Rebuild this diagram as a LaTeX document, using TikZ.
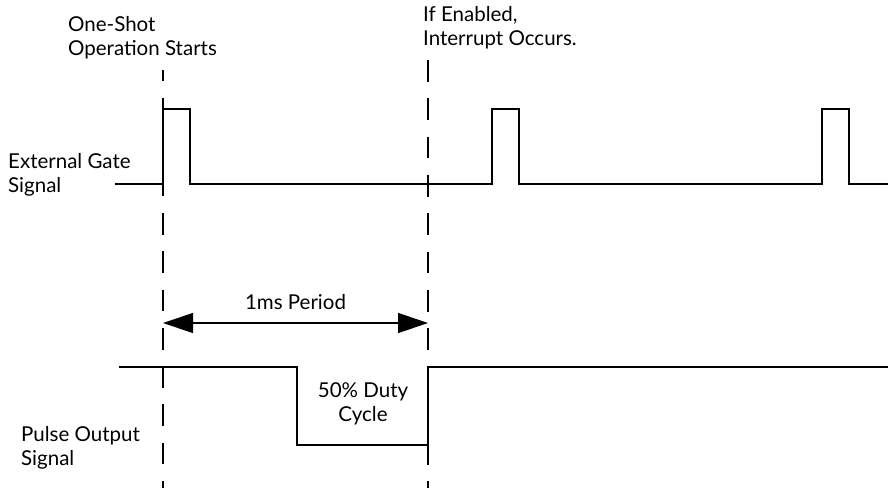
\documentclass[tikz,border=0pt]{standalone}
\usepackage{fontspec}
\setmainfont{Lato}
\usetikzlibrary{arrows.meta,positioning,calc}

\tikzset{
  senal/.style={line width=1.2pt},                                   % trazo de las senales
  guia/.style={line width=1.1pt, dash pattern=on 21.7pt off 16.6pt}, % lineas de referencia
  rotulo/.style={inner sep=0pt, font=\fontsize{20.5}{24}\selectfont},
  flecha/.style={line width=1.2pt, {Triangle[length=30pt,width=20pt]}-{Triangle[length=30pt,width=20pt]}}
}

\begin{document}
\begin{tikzpicture}[x=1pt, y=-1pt]
	\useasboundingbox (0,0) rectangle (891,488);
	% lineas verticales discontinuas
	\coordinate (inicio) at (163,70);
	\coordinate (irq) at (428,60);
	\draw [guia, dash phase=10.3pt] (inicio) -- (163,488);
	\draw [guia] (irq) -- (428,488);
	% textos
	\node (disparo) [rotulo, anchor=north west, align=left] at (68,16) {One-Shot\\Operation Starts};
	\node (interr) [rotulo, anchor=north west, align=left] at (423,6) {If Enabled,\\Interrupt Occurs.};
	\node (puerta) [rotulo, anchor=north west, align=left] at (8,153) {External Gate\\Signal};
	\node (pulso) [rotulo, anchor=north west, align=left] at (21,426) {Pulse Output\\Signal};
	% senal de puerta externa
	\draw [senal] (115,184)
	    \foreach \p in {163,492,822}                       % pulsos de disparo
	        { -- (\p,184) -- (\p,109) -- (\p+27,109) -- (\p+27,184) }
	    -- (888,184);
	% periodo
	\coordinate (pA) at (163,323);
	\coordinate (pB) at (428,323);
	\coordinate (medio) at ($(pA)!.5!(pB)$);
	\draw [flecha] (pA) -- (pB);
	\node (periodo) [rotulo, above=13pt of medio] {1ms Period};
	% senal de salida
	\draw [senal] (119,367) -- (297,367) -- (297,445) -- (428,445) -- (428,367) -- (888,367);
	\node (ciclo) [rotulo, align=center, anchor=north] at (363,382) {50\% Duty\\Cycle};
\end{tikzpicture}
\end{document}
